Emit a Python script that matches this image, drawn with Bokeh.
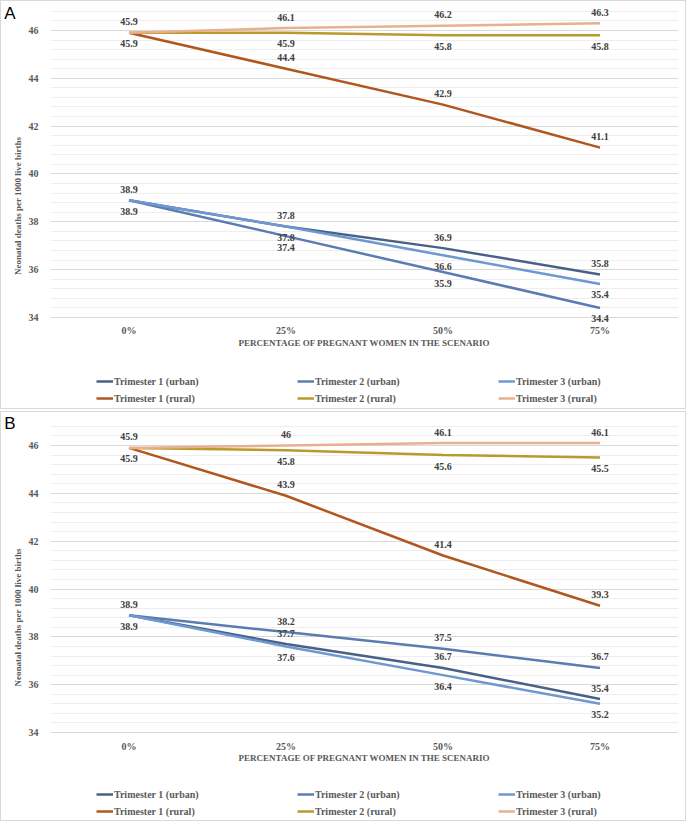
from bokeh.plotting import figure
from bokeh.models import (ColumnDataSource, Legend, LegendItem, LinearAxis,
                          FixedTicker, Range1d, FactorRange)
from bokeh.layouts import column
from bokeh.embed import file_html
from bokeh.resources import INLINE
from bokeh.core.properties import value

# ---------------- data ----------------
scenarios = ["0%", "25%", "50%", "75%"]
series_names = ["Trimester 1 (urban)", "Trimester 2 (urban)", "Trimester 3 (urban)",
                "Trimester 1 (rural)", "Trimester 2 (rural)", "Trimester 3 (rural)"]

a_t1_urban = [38.9, 37.8, 36.9, 35.8]
a_t2_urban = [38.9, 37.4, 35.9, 34.4]
a_t3_urban = [38.9, 37.8, 36.6, 35.4]
a_t1_rural = [45.9, 44.4, 42.9, 41.1]
a_t2_rural = [45.9, 45.9, 45.8, 45.8]
a_t3_rural = [45.9, 46.1, 46.2, 46.3]

b_t1_urban = [38.9, 37.7, 36.7, 35.4]
b_t2_urban = [38.9, 38.2, 37.5, 36.7]
b_t3_urban = [38.9, 37.6, 36.4, 35.2]
b_t1_rural = [45.9, 43.9, 41.4, 39.3]
b_t2_rural = [45.9, 45.8, 45.6, 45.5]
b_t3_rural = [45.9, 46.0, 46.1, 46.1]

y_major_ticks = [34, 36, 38, 40, 42, 44, 46]
y_axis_min, y_axis_max = 34, 46.8

# label placement per point: a = above, b = below, "" = hidden (duplicate)
a_label_pos = [["a", "a", "a", "a"], ["b", "b", "b", "b"], ["", "b", "b", "b"],
               ["", "a", "a", "a"], ["b", "b", "b", "b"], ["a", "a", "a", "a"]]
b_label_pos = [["a", "a", "a", "a"], ["", "a", "a", "a"], ["b", "b", "b", "b"],
               ["", "a", "a", "a"], ["b", "b", "b", "b"], ["a", "a", "a", "a"]]

colors = ["#4a6187", "#5a7cb3", "#6e98d0", "#b0571f", "#b99a2d", "#e8b08e"]

SERIF = "Liberation Serif"
W = 686
FRAME_LEFT, FRAME_RIGHT_BORDER = 42, 9
PX_PER_UNIT = 23.92
minor = [round(y_axis_min + 0.4 * i, 1) for i in range(1, 33)]
minor = [m for m in minor if m not in y_major_ticks]


def make_panel(letter, series, label_pos, height, y_top, letter_px, legend_y):
    y_bottom = y_top - height / PX_PER_UNIT
    p = figure(x_range=FactorRange(*scenarios), y_range=Range1d(y_bottom, y_top),
               width=W, height=height, output_backend="svg", toolbar_location=None,
               min_border_left=FRAME_LEFT, min_border_right=FRAME_RIGHT_BORDER,
               min_border_top=0, min_border_bottom=0)
    p.outline_line_color = None
    p.background_fill_color = "white"
    p.border_fill_color = "white"
    p.styles = {"border": "1px solid #d9d9d9"}

    p.xgrid.visible = False
    p.yaxis.ticker = FixedTicker(ticks=y_major_ticks, minor_ticks=minor)
    p.yaxis.bounds = (y_axis_min - 0.01, y_axis_max + 0.01)
    p.ygrid.grid_line_color = "#d9d9d9"
    p.ygrid.grid_line_width = 1
    p.ygrid.minor_grid_line_color = "#eeeeee"

    for ax in (p.xaxis[0], p.yaxis[0]):
        ax.axis_line_color = None
        ax.major_tick_line_color = None
        ax.minor_tick_line_color = None
        ax.major_label_text_font = SERIF
        ax.major_label_text_font_style = "bold"
        ax.major_label_text_font_size = "10px"
        ax.major_label_text_color = "#595959"
        ax.axis_label_text_font = SERIF
        ax.axis_label_text_font_style = "bold"
        ax.axis_label_text_font_size = "9px"
        ax.axis_label_text_color = "#595959"

    p.yaxis.axis_label = "Neonatal deaths per 1000 live births"
    p.yaxis.major_label_standoff = 6
    p.yaxis.axis_label_standoff = 3
    p.xaxis.axis_label = "PERCENTAGE OF PREGNANT WOMEN IN THE SCENARIO"
    p.xaxis.fixed_location = y_axis_min
    p.xaxis.major_label_standoff = 2
    p.xaxis.axis_label_standoff = -2

    renderers = []
    for vals, col in zip(series, colors):
        src = ColumnDataSource(dict(x=scenarios, y=vals))
        r = p.line("x", "y", source=src, line_color=col, line_width=2.5)
        renderers.append(r)

    for vals, pos in zip(series, label_pos):
        xs, ys, txt, offs = [], [], [], []
        for s, v, ps in zip(scenarios, vals, pos):
            if ps == "":
                continue
            xs.append(s)
            ys.append(v)
            txt.append(f"{v:g}")
            offs.append(-11 if ps == "a" else 11)
        lsrc = ColumnDataSource(dict(x=xs, y=ys, t=txt, off=offs))
        p.text("x", "y", text="t", source=lsrc, y_offset="off",
               text_font=value(SERIF), text_font_style="bold",
               text_font_size="10px", text_color="#404040",
               text_align="center", text_baseline="middle")

    legend = Legend(items=[LegendItem(label=n, renderers=[r])
                           for n, r in zip(series_names, renderers)],
                    orientation="horizontal", ncols=3,
                    location=(46, legend_y),
                    glyph_width=17, glyph_height=12, label_height=12,
                    label_width=178, label_standoff=1, spacing=5,
                    padding=0, margin=0, border_line_color=None,
                    background_fill_alpha=0,
                    label_text_font=SERIF, label_text_font_style="bold",
                    label_text_font_size="10px", label_text_color="#595959")
    p.add_layout(legend, "center")

    # panel letter: an outer left axis with a single labelled tick,
    # pulled inwards so that it shares the space above the y-axis title
    letter_y = y_top - letter_px / PX_PER_UNIT
    lax = LinearAxis(ticker=FixedTicker(ticks=[letter_y]),
                     major_label_overrides={letter_y: letter},
                     axis_line_color=None, major_tick_line_color=None,
                     minor_tick_line_color=None, major_label_standoff=-12,
                     major_label_text_font="Liberation Sans",
                     major_label_text_font_size="17px",
                     major_label_text_color="#000000")
    p.add_layout(lax, "left")
    return p


pA = make_panel("A",
                [a_t1_urban, a_t2_urban, a_t3_urban, a_t1_rural, a_t2_rural, a_t3_rural],
                a_label_pos, 409, 47.21, 12, 6)
pB = make_panel("B",
                [b_t1_urban, b_t2_urban, b_t3_urban, b_t1_rural, b_t2_rural, b_t3_rural],
                b_label_pos, 410, 47.38, 11, 5)

layout = column(pA, pB, spacing=2)
open("out.html", "w").write(file_html(layout, INLINE))
